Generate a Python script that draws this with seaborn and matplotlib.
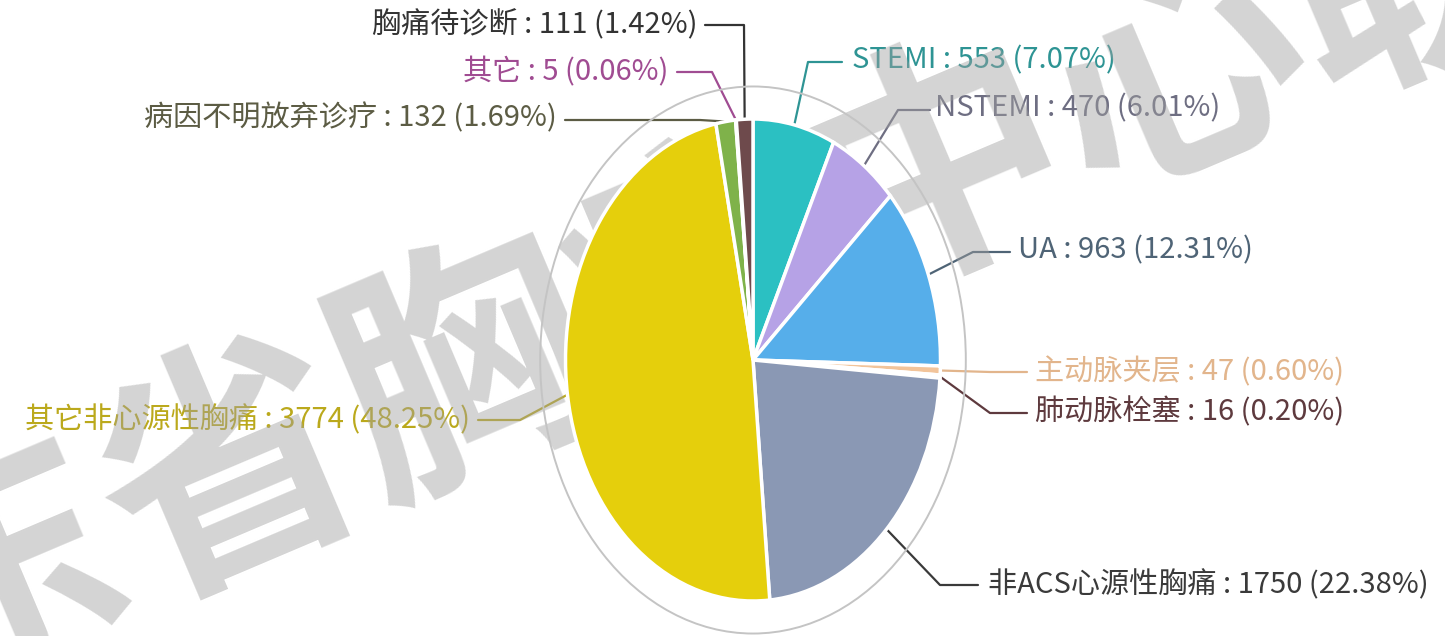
import numpy as np
import matplotlib
matplotlib.use("Agg")
import matplotlib.pyplot as plt
from matplotlib.patches import Circle
import seaborn as sns

sns.set_theme(style="white")
plt.rcParams['font.family'] = ['Noto Sans CJK SC', 'DejaVu Sans']

# data
names = ['STEMI', 'NSTEMI', 'UA', '主动脉夹层', '肺动脉栓塞', '非ACS心源性胸痛',
         '其它非心源性胸痛', '病因不明放弃诊疗', '其它', '胸痛待诊断']
counts = [553, 470, 963, 47, 16, 1750, 3774, 132, 5, 111]
slice_colors = ['#2bc0c2', '#b6a2e6', '#56aeea', '#f2c49a', '#8c5a5c', '#8a98b4',
                '#e5cf0c', '#7fb24a', '#c462a6', '#6e4a4c']
text_colors = ['#2e9494', '#6e6e82', '#4f6476', '#e2b58c', '#5e3a3e', '#3a3a3a',
               '#bba91c', '#5c5c44', '#a04c92', '#333333']

# label layout in pixels: text anchor, elbow, end of line
label_pos = [(852, 60), (935, 108), (1018, 250), (1035, 372), (1035, 412),
             (988, 585), (470, 420), (557, 118), (668, 72), (697, 25)]
elbow_pos = [(808, 62), (898, 110), (973, 252), (990, 372), (990, 413),
             (940, 585), (520, 420), (700, 120), (712, 72), (744, 25)]
line_end = [(842, 62), (930, 110), (1010, 252), (1027, 372), (1027, 413),
            (978, 585), (478, 420), (565, 120), (677, 72), (705, 25)]

W, H = 1445, 636
fig = plt.figure(figsize=(W / 100, H / 100), dpi=100)
fig.patch.set_facecolor('white')

# overlay axes in pixel coordinates
ax0 = fig.add_axes([0, 0, 1, 1])
ax0.set_xlim(0, W)
ax0.set_ylim(H, 0)
ax0.axis('off')

# pie axes, squashed horizontally like the source picture
cx, cy, rx, ry = 753, 360, 187.5, 241
lim = 1.2
ax = fig.add_axes([(cx - lim * rx) / W, (H - cy - lim * ry) / H,
                   2 * lim * rx / W, 2 * lim * ry / H])
wedges, _ = ax.pie(counts, colors=slice_colors, startangle=90, counterclock=False,
                   wedgeprops=dict(edgecolor='white', linewidth=2.5))
ax.add_patch(Circle((0, 0), 1.135, fill=False, ec='#c4c4c4', lw=1.4))
ax.set_xlim(-lim, lim)
ax.set_ylim(-lim, lim)
ax.set_aspect('auto')
ax.axis('off')

total = sum(counts)
for i, w in enumerate(wedges):
    mid = np.deg2rad((w.theta1 + w.theta2) / 2)
    disp = ax.transData.transform((np.cos(mid), np.sin(mid)))
    px, py = ax0.transData.inverted().transform(disp)
    ex, ey = elbow_pos[i]
    lx, ly = line_end[i]
    ax0.plot([px, ex, lx], [py, ey, ly], color=text_colors[i], lw=1.6, zorder=3)
    tx, ty = label_pos[i]
    ha = 'left' if tx > cx else 'right'
    pct = counts[i] / total * 100
    ax0.text(tx, ty, f'{names[i]} : {counts[i]} ({pct:.2f}%)', ha=ha, va='center',
             fontsize=21, color=text_colors[i], zorder=4)

# watermark
ax0.text(705, 278, '广东省胸痛中心联盟', rotation=23, ha='center', va='center',
         fontsize=185, fontweight='bold', color='#a0a0a0', alpha=0.45, zorder=10)

fig.savefig('out.png', dpi=100, facecolor='white')
